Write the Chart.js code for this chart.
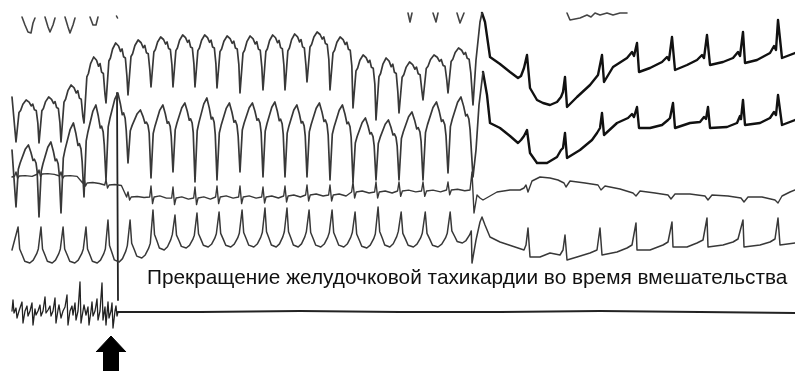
<!DOCTYPE html>
<html>
<head>
<meta charset="utf-8">
<script src="https://cdn.jsdelivr.net/npm/chart.js@4.4.0/dist/chart.umd.min.js"></script>
<style>
  html, body { margin: 0; padding: 0; background: #fff; }
  canvas { display: block; }
</style>
</head>
<body>
<canvas id="ecg" width="795" height="371"></canvas>
<script>
// --- VT run: beat times shared by all leads ---
const VT_BEATS = [16, 39, 61, 84, 106, 128, 151, 173, 195, 217, 240, 263, 285, 307, 330, 353, 376, 399, 423, 448];
const VT_END   = 472;

// lead A (negative spikes): top level + trough per beat
const A_TOP    = [100, 97, 85, 57, 43, 40, 37, 35, 35, 36, 36, 35, 34, 32, 37, 55, 58, 62, 55, 48];
const A_TROUGH = [142, 143, 142, 123, 103, 95, 87, 87, 87, 88, 93, 90, 90, 82, 90, 108, 120, 113, 100, 93];
const A_SHAPE  = [[0, 1], [0.13, 0.3], [0.2, 0.25], [0.3, 0.1], [0.44, 0], [0.57, 0.05], [0.66, 0.14], [0.73, 0.1], [0.8, 0.23], [0.88, 0.25], [0.95, 0.55]];

// lead B (rounded peaks, narrow troughs)
const B_TOP    = [145, 142, 123, 105, 93, 110, 105, 103, 98, 103, 103, 102, 105, 103, 105, 118, 120, 112, 102, 97];
const B_TROUGH = [207, 217, 213, 197, 180, 163, 178, 172, 182, 180, 172, 177, 177, 177, 180, 182, 180, 180, 180, 173];
const B_SHAPE  = [[0, 1], [0.1, 0.39], [0.18, 0.29], [0.4, 0.07], [0.54, 0], [0.65, 0.12], [0.74, 0.25], [0.8, 0.23], [0.87, 0.29], [0.92, 0.43]];

// lead C (flat line with small spikes)
const C_BASE   = [176, 174, 176, 183, 185, 197, 197, 198, 198, 197, 197, 197, 196, 195, 195, 192, 192, 191, 191, 190];
const C_PEAK   = [172, 170, 172, 178, 180, 192, 186, 187, 187, 186, 186, 187, 186, 185, 185, 182, 182, 182, 182, 182];
const C_SHAPE  = [[-0.06, 0], [0, 1], [0.07, -0.6], [0.14, 0], [0.4, 0.1], [0.7, -0.1]];

// lead D (upright spikes)
const D_BOTTOM = [263, 263, 263, 263, 262, 258, 250, 248, 247, 247, 247, 247, 247, 247, 247, 248, 247, 247, 247, 243];
const D_PEAK   = [227, 227, 227, 227, 220, 220, 210, 215, 213, 212, 210, 208, 208, 210, 210, 212, 207, 212, 212, 212];
const D_SHAPE  = [[0.09, 1], [0.16, 0.39], [0.28, 0.21], [0.38, 0.05], [0.6, 0], [0.75, 0.08], [0.9, 0.26], [0.97, 0.39]];

// --- termination and sinus rhythm afterwards ---
const A_TERM  = [[473, 105], [476, 60], [480, 22], [482, 13]];
const A_AFTER = [[482, 13], [485, 22], [488, 43], [490, 57], [500, 64], [510, 72], [518, 78], [521, 76], [524, 68], [527, 55], [530, 88], [537, 100], [543, 103], [550, 105], [557, 102], [561, 97], [563, 92], [565, 77], [567, 107], [577, 97], [590, 85], [594, 80], [598, 75], [602, 55], [604, 82], [613, 67], [627, 58], [632, 52], [634, 56], [637, 43], [639, 72], [650, 68], [662, 62], [667, 57], [669, 60], [672, 37], [675, 70], [687, 65], [697, 60], [702, 55], [704, 58], [707, 35], [710, 65], [723, 62], [733, 58], [738, 52], [740, 56], [743, 32], [745, 63], [757, 60], [770, 53], [774, 46], [776, 50], [778, 20], [782, 58], [795, 53]];

const B_TERM  = [[473, 177], [476, 150], [479, 105], [483, 72]];
const B_AFTER = [[483, 72], [487, 95], [490, 123], [500, 128], [510, 136], [518, 143], [521, 140], [524, 136], [527, 130], [530, 153], [537, 163], [547, 163], [557, 157], [561, 150], [563, 148], [565, 133], [567, 158], [580, 150], [592, 140], [597, 133], [600, 128], [602, 113], [604, 135], [617, 123], [628, 118], [632, 114], [634, 117], [637, 107], [639, 128], [650, 128], [662, 125], [668, 120], [670, 118], [673, 103], [675, 128], [690, 123], [700, 122], [704, 117], [706, 119], [708, 107], [710, 128], [727, 127], [737, 123], [740, 116], [741, 119], [743, 100], [745, 125], [760, 123], [770, 118], [774, 112], [776, 115], [778, 95], [782, 125], [795, 120]];

const C_TERM  = [[470, 190], [472, 172], [474, 213], [477, 195], [480, 198], [483, 200], [490, 196], [497, 192], [510, 190], [520, 190], [524, 188], [526, 185], [528, 192], [532, 181], [540, 177], [550, 178], [558, 180], [564, 183], [566, 187], [570, 181], [585, 183], [598, 185], [601, 190], [605, 186], [620, 189], [633, 193], [636, 196], [640, 191], [655, 193], [668, 195], [671, 199], [675, 194], [690, 194], [705, 196], [708, 200], [712, 195], [728, 196], [741, 198], [744, 202], [748, 197], [762, 197], [775, 200], [778, 203], [782, 196], [790, 192], [795, 190]];

const D_TERM  = [[472, 263], [476, 240], [480, 222], [482, 217], [485, 225], [490, 237], [500, 242], [512, 246], [524, 250], [526, 245], [528, 228], [530, 257], [540, 257], [550, 253], [560, 255], [563, 250], [565, 235], [567, 260], [577, 257], [590, 253], [597, 250], [600, 228], [602, 255], [617, 252], [627, 248], [632, 245], [636, 223], [637, 250], [650, 250], [663, 245], [668, 242], [672, 222], [673, 247], [687, 247], [697, 243], [703, 240], [707, 218], [708, 247], [723, 245], [733, 242], [738, 239], [743, 220], [744, 247], [760, 245], [770, 242], [775, 239], [778, 218], [780, 245], [795, 243]];

// top strip (only fragments visible), null = pen lifted
const TOP_STRIP = [
  [22, 17], [25, 25], [28, 32], [31, 33], [33, 23], [35, 18], null,
  [45, 17], [48, 27], [50, 32], [53, 25], [55, 18], null,
  [65, 17], [68, 27], [70, 33], [73, 25], [75, 18], null,
  [90, 17], [93, 25], [96, 25], [98, 17], null,
  [116.5, 16], [117.5, 18], null,
  [408, 13], [410, 22], [412, 13], null,
  [433, 13], [436, 22], [438, 13], null,
  [457, 13], [460, 23], [464, 13], null,
  [567, 13], [570, 20], [580, 18], [587, 15], [591, 17], [595, 13], [600, 15], [607, 13], [613, 15], [620, 13], [627, 13]
];

// bottom channel: noisy before the intervention, flat afterwards
const E_NOISE = [[12, 311], [13, 300], [14, 313], [16, 308], [17, 318], [19, 311], [22, 302], [23, 323], [25, 311], [27, 306], [28, 316], [30, 311], [32, 303], [33, 325], [35, 309], [36, 315], [38, 311], [40, 305], [41, 316], [43, 311], [45, 297], [46, 313], [48, 310], [50, 306], [51, 316], [53, 311], [55, 298], [56, 323], [58, 310], [59, 305], [61, 318], [63, 311], [65, 307], [67, 295], [68, 325], [70, 311], [72, 306], [73, 315], [75, 303], [76, 320], [78, 311], [80, 282], [81, 323], [83, 311], [84, 305], [86, 315], [88, 307], [89, 325], [91, 311], [92, 302], [93, 316], [95, 311], [97, 299], [98, 320], [100, 311], [102, 283], [103, 320], [105, 307], [106, 325], [108, 302], [109, 318], [111, 311], [112, 303], [113, 328], [115, 311], [116, 306], [117, 316], [118, 312]];
const E_FLAT  = [[118, 312], [200, 312], [300, 311], [400, 312], [500, 312], [600, 311], [700, 312], [795, 313]];

// stimulus artifact and marker arrow
const ARTIFACT    = [[117, 93], [118, 300]];
const ARROW_HEAD  = [[96, 352], [111, 336], [126, 352]];
const ARROW_SHAFT = [[103, 352], [119, 352]];

const LABEL    = 'Прекращение желудочковой тахикардии во время вмешательства';
const LABEL_AT = { x: 147, y: 284 };

// --- helpers ---

function toPoints(arr) {
  let lastX = 0;
  return arr.map(p => {
    if (!p) return { x: lastX, y: null };
    lastX = p[0];
    return { x: p[0], y: p[1] };
  });
}

// place one read beat shape per beat, scaled between base and extreme level
function stampBeats(times, base, ext, shape, endTime) {
  const pts = [];
  times.forEach((t, i) => {
    const next = i < times.length - 1 ? times[i + 1] : endTime;
    const period = next - t;
    shape.forEach(([f, v]) => pts.push([t + f * period, base[i] + v * (ext[i] - base[i])]));
  });
  return pts;
}

function trace(points, width, color) {
  return {
    data: toPoints(points),
    borderColor: color || '#383838',
    borderWidth: width,
    pointRadius: 0,
    tension: 0,
    fill: false,
    borderJoinStyle: 'round',
    borderCapStyle: 'round',
  };
}

function filled(points, toValue) {
  return {
    data: toPoints(points),
    borderColor: '#000',
    backgroundColor: '#000',
    borderWidth: 1,
    pointRadius: 0,
    tension: 0,
    fill: { value: toValue },
  };
}

const leadA = [[12, 97], ...stampBeats(VT_BEATS, A_TOP, A_TROUGH, A_SHAPE, VT_END), ...A_TERM];
const leadB = [[12, 150], ...stampBeats(VT_BEATS, B_TOP, B_TROUGH, B_SHAPE, VT_END), ...B_TERM];
const leadC = [[12, 177], ...stampBeats(VT_BEATS, C_BASE, C_PEAK, C_SHAPE, VT_END), ...C_TERM];
const leadD = [[12, 250], ...stampBeats(VT_BEATS, D_BOTTOM, D_PEAK, D_SHAPE, VT_END), ...D_TERM];

const labelPlugin = {
  id: 'stripLabel',
  afterDatasetsDraw(chart) {
    const { ctx, scales: { x, y } } = chart;
    ctx.save();
    ctx.font = '20.8px "Liberation Sans", Arial, sans-serif';
    ctx.fillStyle = '#111';
    ctx.textBaseline = 'alphabetic';
    ctx.fillText(LABEL, x.getPixelForValue(LABEL_AT.x), y.getPixelForValue(LABEL_AT.y));
    ctx.restore();
  },
};

new Chart(document.getElementById('ecg'), {
  type: 'line',
  data: {
    datasets: [
      trace(TOP_STRIP, 1.6, '#444'),
      trace(leadA, 1.7),
      trace(A_AFTER, 2.4, '#111'),
      trace(leadB, 1.7),
      trace(B_AFTER, 2.4, '#111'),
      trace(leadC, 1.4),
      trace(leadD, 1.5),
      trace(E_NOISE, 1.3, '#222'),
      trace(E_FLAT, 2.2, '#222'),
      trace(ARTIFACT, 1.8, '#222'),
      filled(ARROW_HEAD, 352),
      filled(ARROW_SHAFT, 371),
    ],
  },
  options: {
    responsive: false,
    animation: false,
    devicePixelRatio: 1,
    layout: { padding: 0 },
    plugins: { legend: { display: false }, tooltip: { enabled: false } },
    scales: {
      x: { type: 'linear', min: 0, max: 795, display: false },
      y: { type: 'linear', min: 0, max: 371, reverse: true, display: false },
    },
  },
  plugins: [labelPlugin],
});
</script>
</body>
</html>
